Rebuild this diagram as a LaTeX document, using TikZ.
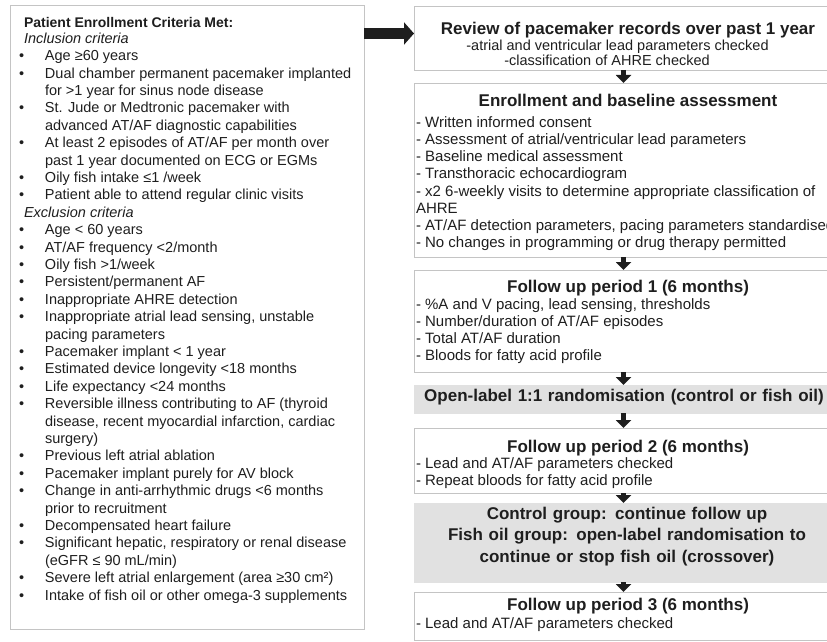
\documentclass[tikz,border=0pt]{standalone}
\usepackage{fontspec}
\setmainfont{Liberation Sans}
\usetikzlibrary{positioning,arrows.meta}

\definecolor{framegray}{HTML}{C4C4C4}
\definecolor{shadegray}{HTML}{E1E1E1}
\definecolor{inkgray}{HTML}{1E1E1E}

\newcommand\critem[1]{\par\hangindent=21pt\hangafter=1\noindent\hspace*{-5pt}\makebox[26pt][l]{\textbullet}#1}
\newcommand\stagehead{\fontsize{17}{20}\selectfont\bfseries}
\newcommand\stagebody{\fontsize{15}{17.2}\selectfont}
\newcommand\textpage[2]{\begin{minipage}[t]{#1}\raggedright #2\end{minipage}}

\begin{document}
\begin{tikzpicture}[x=1pt, y=1pt,
    every node/.style={text=inkgray, outer sep=0pt},
    frame/.style={rectangle, draw=framegray, line width=0.9pt, inner sep=0pt},
    stage/.style={frame, minimum width=426pt, anchor=north},
    shaded/.style={stage, fill=shadegray, draw=shadegray},
    stagetext/.style={anchor=base west, inner sep=0pt, font=\stagebody},
    centretext/.style={anchor=base, text width=426pt, align=center,
        inner sep=0pt, font=\stagehead},
    arrowstyle/.style={draw=inkgray, line width=5pt, -{Triangle[width=15pt,length=8pt]}},
    bigarrow/.style={draw=inkgray, line width=11pt, -{Triangle[width=22pt,length=10pt]}},
    node distance=13pt
]
\useasboundingbox (0,0) rectangle (827,-642);
\clip (0,0) rectangle (827,-642);

\node (Criteria) [frame, anchor=north west, minimum width=354pt, minimum height=624pt] at (10,-5) {};
\node (CriteriaText) [anchor=base west, inner sep=0pt,
    font={\fontsize{14.5}{17.4}\selectfont}] at (24,-28) {\textpage{335pt}{%
  {\fontsize{14}{17}\selectfont\bfseries Patient Enrollment Criteria Met:\par}
  \vspace{-2pt}
  \textit{Inclusion criteria}
  \critem{Age ≥60 years}
  \critem{Dual chamber permanent pacemaker implanted\newline for >1 year for sinus node disease}
  \critem{St. Jude or Medtronic pacemaker with\newline advanced AT/AF diagnostic capabilities}
  \critem{At least 2 episodes of AT/AF per month over\newline past 1 year documented on ECG or EGMs}
  \critem{Oily fish intake ≤1 /week}
  \critem{Patient able to attend regular clinic visits}
  \par\noindent\textit{Exclusion criteria}
  \critem{Age < 60 years}
  \critem{AT/AF frequency <2/month}
  \critem{Oily fish >1/week}
  \critem{Persistent/permanent AF}
  \critem{Inappropriate AHRE detection}
  \critem{Inappropriate atrial lead sensing, unstable\newline pacing parameters}
  \critem{Pacemaker implant < 1 year}
  \critem{Estimated device longevity <18 months}
  \critem{Life expectancy <24 months}
  \critem{Reversible illness contributing to AF (thyroid\newline disease, recent myocardial infarction, cardiac\newline surgery)}
  \critem{Previous left atrial ablation}
  \critem{Pacemaker implant purely for AV block}
  \critem{Change in anti-arrhythmic drugs <6 months\newline prior to recruitment}
  \critem{Decompensated heart failure}
  \critem{Significant hepatic, respiratory or renal disease\newline (eGFR ≤ 90 mL/min)}
  \critem{Severe left atrial enlargement (area ≥30 cm²)}
  \critem{Intake of fish oil or other omega-3 supplements}}};

\node (Review) [stage, minimum height=64pt] at (627,-6) {};
\node (Enrollment) [stage, minimum height=174pt, below=of Review] {};
\node (FollowUp01) [stage, minimum height=102pt, below=of Enrollment] {};
\node (Randomisation) [shaded, minimum height=28pt, below=of FollowUp01] {};
\node (FollowUp02) [stage, minimum height=65pt, below=15pt of Randomisation] {};
\node (Crossover) [shaded, minimum height=79pt, below=10pt of FollowUp02] {};
\node (FollowUp03) [stage, minimum height=48pt, below=10pt of Crossover] {};

\node (ReviewText) [stagetext, font={\fontsize{14.5}{15.5}\selectfont}]
    at ([xshift=2pt,yshift=-29pt]Review.north west) {\textpage{424pt}{%
  \centering
  {\stagehead Review of pacemaker records over past 1 year\par}
  \hspace*{-21pt}-atrial and ventricular lead parameters checked\par
  \hspace*{-42pt}-classification of AHRE checked\par}};

\node (EnrollmentText) [stagetext] at ([xshift=2pt,yshift=-23pt]Enrollment.north west) {\textpage{424pt}{%
  {\centering\stagehead Enrollment and baseline assessment\par}
  \vspace{4pt}
  - Written informed consent\par
  - Assessment of atrial/ventricular lead parameters\par
  - Baseline medical assessment\par
  - Transthoracic echocardiogram\par
  \mbox{- x2 6-weekly visits to determine appropriate classification of}\par
  AHRE\par
  \mbox{- AT/AF detection parameters, pacing parameters standardised}\par
  - No changes in programming or drug therapy permitted}};

\node (FollowUp01Text) [stagetext] at ([xshift=2pt,yshift=-22pt]FollowUp01.north west) {\textpage{424pt}{%
  {\centering\stagehead Follow up period 1 (6 months)\par}
  - \%A and V pacing, lead sensing, thresholds\par
  - Number/duration of AT/AF episodes\par
  - Total AT/AF duration\par
  - Bloods for fatty acid profile}};

\node (RandomisationText) [centretext] at ([xshift=-3pt,yshift=-16pt]Randomisation.north)
  {\mbox{Open-label 1:1 randomisation (control or fish oil)}};

\node (FollowUp02Text) [stagetext] at ([xshift=2pt,yshift=-24pt]FollowUp02.north west) {\textpage{424pt}{%
  {\centering\stagehead Follow up period 2 (6 months)\par}
  \vspace{-1pt}
  - Lead and AT/AF parameters checked\par
  - Repeat bloods for fatty acid profile}};

\node (CrossoverText) [centretext, font={\fontsize{17}{21.5}\selectfont\bfseries}]
    at ([yshift=-16pt]Crossover.north) {%
  Control group: continue follow up\\
  Fish oil group: open-label randomisation to\\
  continue or stop fish oil (crossover)};

\node (FollowUp03Text) [stagetext] at ([xshift=2pt,yshift=-18pt]FollowUp03.north west) {\textpage{424pt}{%
  {\centering\stagehead Follow up period 3 (6 months)\par}
  \vspace{1pt}
  - Lead and AT/AF parameters checked}};

\draw[bigarrow] (Criteria.east |- 0,-33.5) -- (Review.west |- 0,-33.5);
\draw[arrowstyle] ([xshift=-3.5pt]Review.south) -- ([xshift=-3.5pt]Enrollment.north);
\draw[arrowstyle] ([xshift=-3.5pt]Enrollment.south) -- ([xshift=-3.5pt]FollowUp01.north);
\draw[arrowstyle] ([xshift=-3.5pt]FollowUp01.south) -- ([xshift=-3.5pt]Randomisation.north);
\draw[arrowstyle] ([xshift=-3.5pt]Randomisation.south) -- ([xshift=-3.5pt]FollowUp02.north);
\draw[arrowstyle] ([xshift=-3.5pt]FollowUp02.south) -- ([xshift=-3.5pt]Crossover.north);
\draw[arrowstyle] ([xshift=-3.5pt]Crossover.south) -- ([xshift=-3.5pt]FollowUp03.north);

\end{tikzpicture}
\end{document}
